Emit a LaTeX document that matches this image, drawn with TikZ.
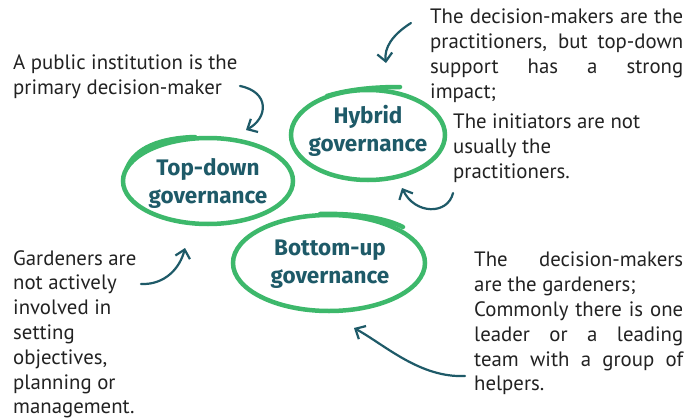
\documentclass[tikz,border=0pt]{standalone}
\usepackage{fontspec}
\setmainfont{PT Sans}
\newfontfamily\titlefont{Fira Sans}
\usetikzlibrary{arrows.meta}
\definecolor{leaf}{HTML}{3DB86B}
\definecolor{deepteal}{HTML}{1E5A68}
\definecolor{ink}{HTML}{222222}
\tikzset{
  ring/.style={draw=leaf, line width=4.5pt, line cap=round},
  tail/.style={draw=leaf, line width=4.5pt, line cap=round},
  title/.style={text=deepteal, font=\titlefont\fontsize{22.5}{28}\selectfont\bfseries, align=center, inner sep=0pt},
  para/.style={text=ink, font=\fontsize{20.8}{24.8}\selectfont, align=left, inner sep=0pt, anchor=north west},
  arr/.style={draw=deepteal, line width=2.2pt, line cap=round, -{Straight Barb[length=8pt,width=15pt,line width=2.2pt]}}
}
\begin{document}
\begin{tikzpicture}[x=1pt,y=-1pt]
\useasboundingbox[fill=white] (0,0) rectangle (693,420);

% ellipses
\draw[ring] (208,181) ellipse [x radius=85, y radius=43];
\draw[tail] (127,168) .. controls (135,148) and (160,138) .. (195,137);
\draw[ring] (368,135) ellipse [x radius=77, y radius=45];
\draw[tail] (327,96) .. controls (350,89) and (375,87) .. (400,87);
\draw[ring] (329,263) ellipse [x radius=96, y radius=48];
\draw[tail] (320,214) .. controls (355,213) and (385,218) .. (403,227);

% titles
\node[title] (td) at (208,183) {Top-down\\governance};
\node[title] (hy) at (368,131) {Hybrid\\governance};
\node[title] (bu) at (330,264) {Bottom-up\\governance};

% paragraphs
\node[para] (ptl) at (13,55) {A public institution is the\\primary decision-maker};
\node[para] (ptr) at (430,9) {\makebox[253pt][s]{The decision-makers are the}\\
  \makebox[253pt][s]{practitioners, but top-down}\\
  \makebox[253pt][s]{support has a strong}\\
  impact;};
\node[para] (pin) at (453,114) {The initiators are not\\usually the\\practitioners.};
\node[para] (pga) at (13,250) {Gardeners are\\not actively\\involved in\\setting\\objectives,\\planning or\\management.};
\node[para] (pbr) at (474,252) {\makebox[209pt][s]{The decision-makers}\\
  are the gardeners;\\
  \makebox[209pt][s]{Commonly there is one}\\
  \makebox[209pt][s]{leader or a leading}\\
  \makebox[209pt][s]{team with a group of}\\
  helpers.};

% arrow end points
\coordinate (a1s) at (240,86);  \coordinate (a1e) at (246,130);
\coordinate (a2s) at (411,23);  \coordinate (a2e) at (386,63);
\coordinate (a3s) at (453,193); \coordinate (a3e) at (402,188);
\coordinate (a4s) at (141,284); \coordinate (a4e) at (185,248);
\coordinate (a5s) at (465,376); \coordinate (a5e) at (354,328);

\draw[arr] (a1s) .. controls (270,92) and (268,118) .. (a1e);
\draw[arr] (a2s) .. controls (392,35) and (384,48) .. (a2e);
\draw[arr] (a3s) .. controls (448,215) and (415,215) .. (a3e);
\draw[arr] (a4s) .. controls (165,285) and (180,268) .. (a4e);
\draw[arr] (a5s) .. controls (420,378) and (385,345) .. (a5e);
\end{tikzpicture}
\end{document}
